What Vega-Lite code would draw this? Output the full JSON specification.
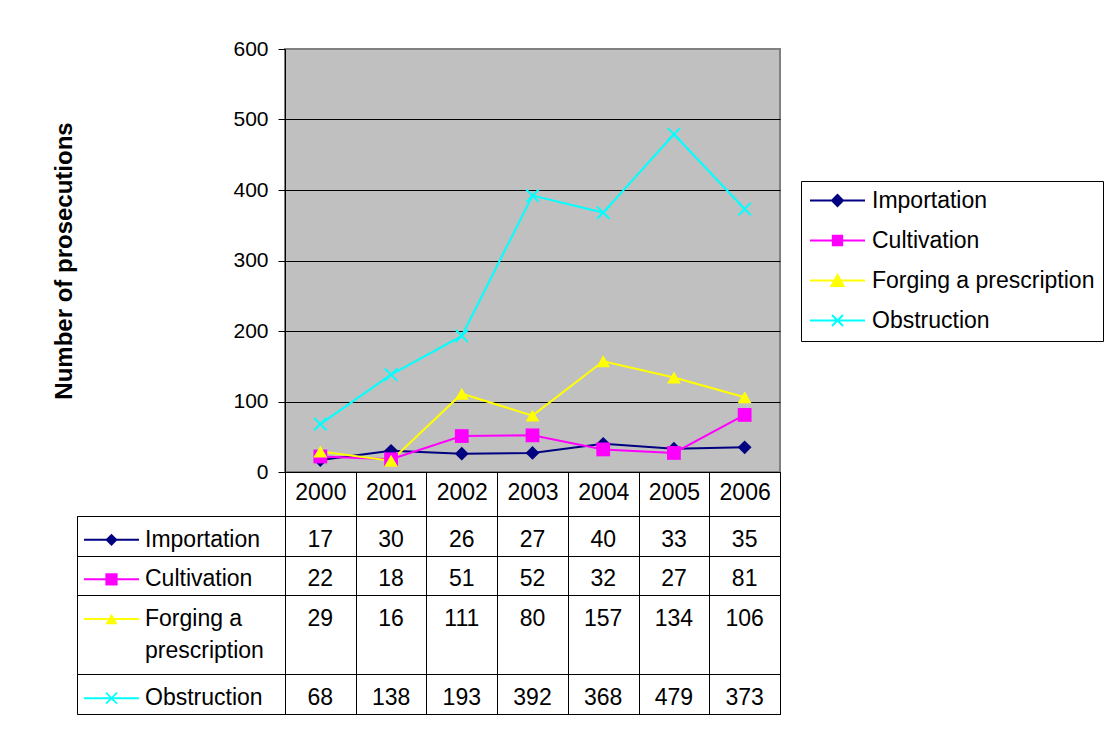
{
  "$schema": "https://vega.github.io/schema/vega-lite/v6.json",
  "padding": {"left": 51, "top": 37, "right": 0, "bottom": 0},
  "background": "white",
  "config": {"font": "Liberation Sans", "text": {"color": "black"}},
  "datasets": {
    "counts": [
      {"series": "Importation", "year": 2000, "count": 17},
      {"series": "Importation", "year": 2001, "count": 30},
      {"series": "Importation", "year": 2002, "count": 26},
      {"series": "Importation", "year": 2003, "count": 27},
      {"series": "Importation", "year": 2004, "count": 40},
      {"series": "Importation", "year": 2005, "count": 33},
      {"series": "Importation", "year": 2006, "count": 35},
      {"series": "Cultivation", "year": 2000, "count": 22},
      {"series": "Cultivation", "year": 2001, "count": 18},
      {"series": "Cultivation", "year": 2002, "count": 51},
      {"series": "Cultivation", "year": 2003, "count": 52},
      {"series": "Cultivation", "year": 2004, "count": 32},
      {"series": "Cultivation", "year": 2005, "count": 27},
      {"series": "Cultivation", "year": 2006, "count": 81},
      {"series": "Forging a prescription", "year": 2000, "count": 29},
      {"series": "Forging a prescription", "year": 2001, "count": 16},
      {"series": "Forging a prescription", "year": 2002, "count": 111},
      {"series": "Forging a prescription", "year": 2003, "count": 80},
      {"series": "Forging a prescription", "year": 2004, "count": 157},
      {"series": "Forging a prescription", "year": 2005, "count": 134},
      {"series": "Forging a prescription", "year": 2006, "count": 106},
      {"series": "Obstruction", "year": 2000, "count": 68},
      {"series": "Obstruction", "year": 2001, "count": 138},
      {"series": "Obstruction", "year": 2002, "count": 193},
      {"series": "Obstruction", "year": 2003, "count": 392},
      {"series": "Obstruction", "year": 2004, "count": 368},
      {"series": "Obstruction", "year": 2005, "count": 479},
      {"series": "Obstruction", "year": 2006, "count": 373}
    ],
    "labels": [
      {"series": "Importation", "label": "Importation"},
      {"series": "Cultivation", "label": "Cultivation"},
      {"series": "Forging a prescription", "label": "Forging a\nprescription"},
      {"series": "Obstruction", "label": "Obstruction"}
    ]
  },
  "columns": 2,
  "bounds": "flush",
  "spacing": {"row": 44, "column": 0},
  "concat": [
    {
      "width": 208,
      "height": 423,
      "data": {"values": []},
      "view": {"stroke": null},
      "mark": {"type": "point", "opacity": 0},
      "encoding": {}
    },
    {
      "width": 495,
      "height": 423,
      "data": {"name": "counts"},
      "view": {"fill": "#C0C0C0", "stroke": "#808080", "strokeWidth": 2},
      "encoding": {
        "x": {
          "field": "year",
          "type": "ordinal",
          "scale": {"type": "band", "paddingInner": 0, "paddingOuter": 0},
          "axis": {
            "title": null,
            "labelAngle": 0,
            "labelFontSize": 23,
            "labelColor": "black",
            "labelBaseline": "middle",
            "labelPadding": -24,
            "tickBand": "extent",
            "tickSize": 44,
            "tickColor": "black",
            "domainColor": "black",
            "grid": false
          }
        },
        "y": {
          "field": "count",
          "type": "quantitative",
          "scale": {"domain": [0, 600], "nice": false},
          "axis": {
            "values": [0, 100, 200, 300, 400, 500, 600],
            "grid": true,
            "gridColor": {"condition": {"test": "datum.value === 600", "value": "#808080"}, "value": "black"},
            "gridOpacity": 1,
            "tickSize": 7,
            "tickColor": "black",
            "domainColor": "black",
            "labelFontSize": 21,
            "labelColor": "black",
            "labelPadding": 10,
            "title": "Number of prosecutions",
            "titleFontSize": 24,
            "titleFontWeight": "bold",
            "titleColor": "black",
            "titlePadding": 156
          }
        },
        "color": {
          "field": "series",
          "type": "nominal",
          "scale": {
            "domain": ["Importation", "Cultivation", "Forging a prescription", "Obstruction"],
            "range": ["#000080", "#FF00FF", "#FFFF00", "#00FFFF"]
          },
          "legend": {
            "orient": "none",
            "legendX": 724,
            "legendY": 132,
            "title": null,
            "strokeColor": "black",
            "fillColor": "white",
            "padding": 8,
            "labelFontSize": 23,
            "labelColor": "black",
            "labelLimit": 400,
            "labelOffset": 6,
            "rowPadding": 16,
            "clipHeight": 23,
            "symbolSize": 3025,
            "symbolStrokeWidth": 2,
            "encode": {
              "symbols": {
                "update": {
                  "shape": {"signal": "datum.value === 'Importation' ? 'M-1,0H1M0,-0.2L0.2,0L0,0.2L-0.2,0Z' : datum.value === 'Cultivation' ? 'M-1,0H1M-0.17,-0.17H0.17V0.17H-0.17Z' : datum.value === 'Forging a prescription' ? 'M-1,0H1M0,-0.2L0.22,0.2H-0.22Z' : 'M-1,0H1M-0.2,-0.2L0.2,0.2M-0.2,0.2L0.2,-0.2'"},
                  "fill": {"scale": "color", "field": "value"},
                  "stroke": {"scale": "color", "field": "value"},
                  "strokeWidth": {"value": 2},
                  "size": {"value": 3025},
                  "opacity": {"value": 1}
                }
              }
            }
          }
        }
      },
      "layer": [
        {"mark": {"type": "line", "strokeWidth": 2}},
        {
          "mark": {
            "type": "point",
            "filled": true,
            "opacity": 1,
            "size": 190,
            "shape": {"expr": "datum.series === 'Importation' ? 'diamond' : datum.series === 'Cultivation' ? 'square' : datum.series === 'Forging a prescription' ? 'triangle-up' : 'M-1,-0.8L-0.8,-1L0,-0.2L0.8,-1L1,-0.8L0.2,0L1,0.8L0.8,1L0,0.2L-0.8,1L-1,0.8L-0.2,0Z'"}
          }
        }
      ]
    },
    {
      "width": 208,
      "height": 198,
      "data": {"name": "labels"},
      "view": {"stroke": "black", "strokeWidth": 1},
      "encoding": {
        "y": {
          "field": "series",
          "type": "nominal",
          "bandPosition": 0.6,
          "scale": {"domain": ["Importation", "Cultivation", "Forging a prescription", " ", "Obstruction"], "paddingInner": 0, "paddingOuter": 0},
          "axis": {
            "values": ["Importation", "Cultivation", " ", "Obstruction"],
            "tickBand": "extent",
            "grid": true,
            "gridColor": "black",
            "gridOpacity": 1,
            "labels": false,
            "ticks": false,
            "domain": false,
            "title": null
          }
        }
      },
      "layer": [
        {
          "mark": {"type": "point", "shape": "M-1,0H1", "size": 3025, "strokeWidth": 2, "filled": false, "opacity": 1, "xOffset": -69.5},
          "encoding": {
            "stroke": {
              "field": "series",
              "type": "nominal",
              "scale": {
                "domain": ["Importation", "Cultivation", "Forging a prescription", "Obstruction"],
                "range": ["#000080", "#FF00FF", "#FFFF00", "#00FFFF"]
              },
              "legend": null
            }
          }
        },
        {
          "mark": {
            "type": "point",
            "filled": true,
            "size": 150,
            "opacity": 1,
            "xOffset": -69.5,
            "shape": {"expr": "datum.series === 'Importation' ? 'diamond' : datum.series === 'Cultivation' ? 'square' : datum.series === 'Forging a prescription' ? 'triangle-up' : 'M-1,-0.8L-0.8,-1L0,-0.2L0.8,-1L1,-0.8L0.2,0L1,0.8L0.8,1L0,0.2L-0.8,1L-1,0.8L-0.2,0Z'"}
          },
          "encoding": {
            "fill": {
              "field": "series",
              "type": "nominal",
              "scale": {
                "domain": ["Importation", "Cultivation", "Forging a prescription", "Obstruction"],
                "range": ["#000080", "#FF00FF", "#FFFF00", "#00FFFF"]
              },
              "legend": null
            }
          }
        },
        {
          "mark": {"type": "text", "align": "left", "baseline": "middle", "dx": -36, "fontSize": 23, "lineBreak": "\n", "lineHeight": 32},
          "encoding": {"text": {"field": "label"}}
        }
      ]
    },
    {
      "width": 495,
      "height": 198,
      "data": {"name": "counts"},
      "view": {"stroke": "black", "strokeWidth": 1},
      "mark": {"type": "text", "fontSize": 23, "align": "center", "baseline": "middle"},
      "encoding": {
        "x": {
          "field": "year",
          "type": "ordinal",
          "scale": {"paddingInner": 0, "paddingOuter": 0},
          "axis": {
            "tickBand": "extent",
            "grid": true,
            "gridColor": "black",
            "gridOpacity": 1,
            "labels": false,
            "ticks": false,
            "domain": false,
            "title": null
          }
        },
        "y": {
          "field": "series",
          "type": "nominal",
          "bandPosition": 0.6,
          "scale": {"domain": ["Importation", "Cultivation", "Forging a prescription", " ", "Obstruction"], "paddingInner": 0, "paddingOuter": 0},
          "axis": {
            "values": ["Importation", "Cultivation", " ", "Obstruction"],
            "tickBand": "extent",
            "grid": true,
            "gridColor": "black",
            "gridOpacity": 1,
            "labels": false,
            "ticks": false,
            "domain": false,
            "title": null
          }
        },
        "text": {"field": "count", "type": "quantitative"}
      }
    }
  ]
}
